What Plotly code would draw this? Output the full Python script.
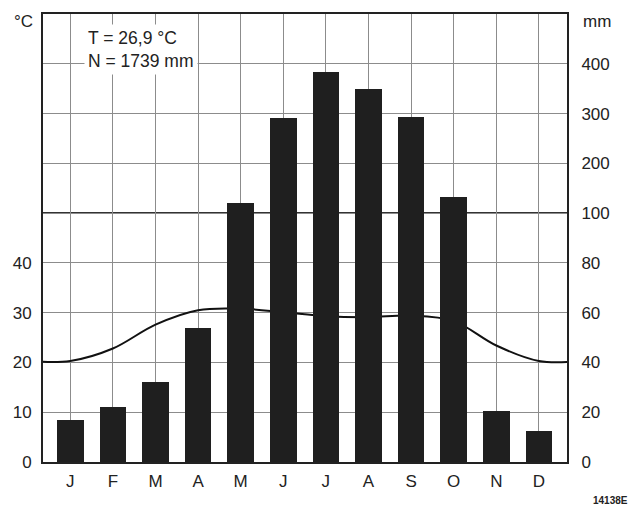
import plotly.graph_objects as go

months = ["J", "F", "M", "A", "M", "J", "J", "A", "S", "O", "N", "D"]
temp_c = [20.3, 22.8, 27.6, 30.5, 30.8, 30.1, 29.3, 29.1, 29.4, 28.3, 23.4, 20.3]
precip_mm = [17, 22, 32, 54, 121, 291, 383, 349, 293, 132, 20.5, 12.5]
left_ticks = [0, 10, 20, 30, 40]
right_tick_mm = [0, 20, 40, 60, 80, 100, 200, 300, 400]
summary_T = "26,9"
summary_N = "1739"
code_label = "14138E"


def mm_to_axis(v):
    # Walter-Lieth scale: 20 mm = 10 °C up to 100 mm, then 100 mm per 10 °C
    return v / 2 if v <= 100 else 50 + (v - 100) / 10


xs = list(range(len(months)))
# periodic temperature curve (wrap Dec before Jan and Jan after Dec)
tx = [-1] + xs + [len(months)]
ty = [temp_c[-1]] + temp_c + [temp_c[0]]

FONT = "Liberation Sans"
TXT = "#222222"

fig = go.Figure()
fig.add_trace(go.Scatter(
    x=tx, y=ty, mode="lines", line=dict(color="#111111", width=2, shape="spline", smoothing=1.0),
    xaxis="x", yaxis="y", hoverinfo="skip", showlegend=False,
))
fig.add_trace(go.Bar(
    x=xs, y=[mm_to_axis(v) for v in precip_mm], width=0.625,
    marker=dict(color="#1f1f1f", line=dict(width=0)),
    xaxis="x", yaxis="y2", showlegend=False,
))

grid_vals = [mm_to_axis(v) for v in right_tick_mm]

fig.update_layout(
    width=639, height=510,
    margin=dict(l=43, r=72, t=12, b=48),
    paper_bgcolor="white", plot_bgcolor="white",
    font=dict(family=FONT, size=17, color=TXT),
    bargap=0,
    xaxis=dict(
        range=[-0.64, 11.66], tickmode="array", tickvals=xs, ticktext=months,
        showgrid=True, gridcolor="#8c8c8c", gridwidth=1.4,
        showline=True, linecolor="#222222", linewidth=2, mirror=True,
        ticks="outside", ticklen=3, tickcolor="rgba(0,0,0,0)",
        zeroline=False, fixedrange=True,
    ),
    yaxis=dict(
        range=[0, 90], tickmode="array", tickvals=grid_vals,
        ticktext=[str(v) for v in left_ticks] + [""] * (len(grid_vals) - len(left_ticks)),
        showgrid=True, gridcolor="#8c8c8c", gridwidth=1.4,
        showline=True, linecolor="#222222", linewidth=2, mirror=True,
        ticks="outside", ticklen=6, tickcolor="rgba(0,0,0,0)",
        zeroline=False, fixedrange=True,
    ),
    yaxis2=dict(
        range=[0, 90], overlaying="y", side="right", tickmode="array",
        tickvals=grid_vals, ticktext=[str(v) for v in right_tick_mm],
        showgrid=False, showline=False, zeroline=False,
        ticks="outside", ticklen=10, tickcolor="rgba(0,0,0,0)", fixedrange=True,
    ),
    shapes=[dict(type="line", xref="paper", x0=0, x1=1, yref="y", y0=mm_to_axis(100), y1=mm_to_axis(100),
                 line=dict(color="#333333", width=2), layer="below")],
    annotations=[
        dict(text="°C", xref="paper", yref="paper", x=-0.015, y=1.01, xanchor="right", yanchor="top",
             showarrow=False, font=dict(size=17)),
        dict(text="mm", xref="paper", yref="paper", x=1.027, y=1.008, xanchor="left", yanchor="top",
             showarrow=False, font=dict(size=17)),
        dict(text=f"T = {summary_T} °C<br>N = {summary_N} mm", xref="paper", yref="paper",
             x=0.078, y=0.977, xanchor="left", yanchor="top", align="left",
             showarrow=False, bgcolor="white", borderpad=3, font=dict(size=17.5)),
        dict(text=f"<b>{code_label}</b>", xref="paper", yref="paper", x=1.046, y=-0.07,
             xanchor="left", yanchor="top", showarrow=False, font=dict(size=10)),
    ],
)

fig.write_html("out.html", config={"displayModeBar": False},
               post_script="document.body.style.margin='0';document.body.style.padding='0';")
